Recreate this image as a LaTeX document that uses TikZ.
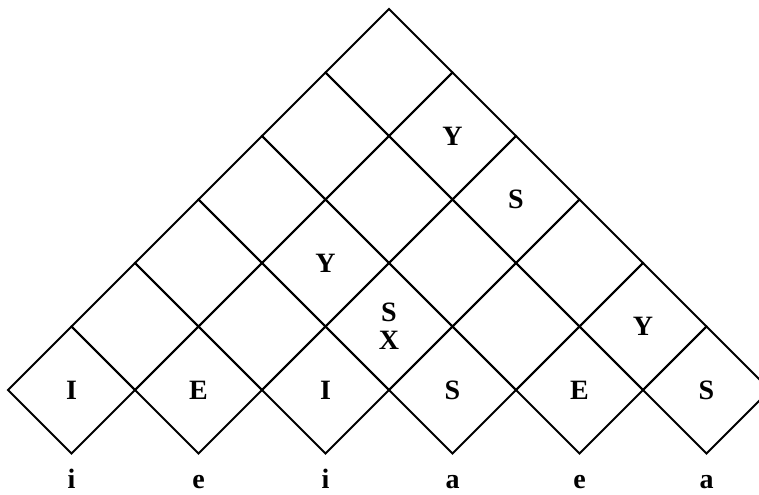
\documentclass[tikz,border=0pt]{standalone}
\usepackage{fontspec}
\setmainfont{Liberation Serif}
\usetikzlibrary{shapes.geometric}

\begin{document}
\begin{tikzpicture}[x=0.75pt, y=-0.75pt,
    cell/.style={draw, shape=diamond, line width=1.5pt,
                 minimum width=95.25pt, minimum height=95.25pt,
                 inner sep=0pt, outer sep=0pt},
    sym/.style={font=\fontsize{21}{21}\selectfont\bfseries,
                align=center, inner sep=0pt},
    term/.style={anchor=base, font=\fontsize{21}{21}\selectfont\bfseries}]
  \useasboundingbox (0,0) rectangle (759,494);
  \clip (0,0) rectangle (759,494);

  % chart cells: row r counted from the bottom, position j
  \foreach \r in {0,...,5}{
    \pgfmathtruncatemacro{\last}{5-\r}
    \foreach \j in {0,...,\last}
      \node[cell] (c\r\j) at ({71.5+127*\j+63.5*\r}, {390-63.5*\r}) {};
  }

  % cell entries
  \foreach \r/\j/\t in {0/0/I, 0/1/E, 0/2/I, 0/3/S, 0/4/E, 0/5/S,
                        1/2/{S\\X}, 1/4/Y, 2/1/Y, 3/2/S, 4/1/Y}
    \node[sym] (s\r\j) at (c\r\j) {\t};

  % input word
  \foreach \j/\w in {0/i, 1/e, 2/i, 3/a, 4/e, 5/a}
    \node[term] (w\j) at ({71.5+127*\j}, 488) {\w};
\end{tikzpicture}
\end{document}
